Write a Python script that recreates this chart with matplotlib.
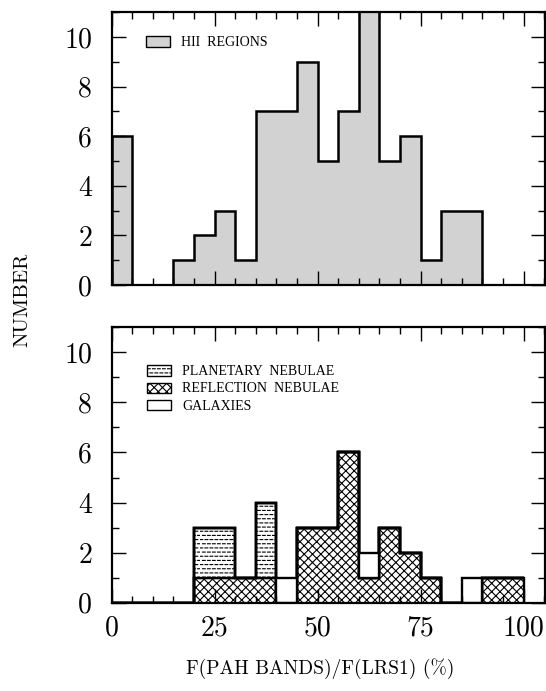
import numpy as np
import matplotlib
matplotlib.use("Agg")
import matplotlib.pyplot as plt
import matplotlib.hatch as mhatch
from matplotlib.path import Path
from matplotlib.patches import Patch
from matplotlib.ticker import MultipleLocator

# ---------------- data ----------------
hii_edges = list(range(0, 95, 5))
hii_counts = [6, 0, 0, 1, 2, 3, 1, 7, 7, 9, 5, 7, 12, 5, 6, 1, 3, 3]

low_edges = list(range(0, 105, 5))
reflection_counts = [0, 0, 0, 0, 1, 1, 1, 1, 0, 3, 3, 6, 1, 3, 2, 1, 0, 0, 1, 1]
planetary_counts = [0, 0, 0, 0, 2, 2, 0, 3, 0, 0, 0, 0, 0, 0, 0, 0, 0, 0, 0, 0]
galaxy_counts = [0, 0, 0, 0, 0, 0, 0, 0, 1, 0, 0, 0, 1, 0, 0, 0, 0, 1, 0, 0]

x_ticks = [0, 25, 50, 75, 100]
y_ticks = [0, 2, 4, 6, 8, 10]
legend_top = ["HII  REGIONS"]
legend_bottom = ["PLANETARY  NEBULAE", "REFLECTION  NEBULAE", "GALAXIES"]
xlabel = "F(PAH BANDS)/F(LRS1) (%)"
ylabel = "NUMBER"

# ------------- dashed horizontal hatch (replaces '-') -------------
class DashedHorizontalHatch(mhatch.HatchPatternBase):
    def __init__(self, hatch, density):
        self.num_lines = int((hatch.count('-') + hatch.count('+')) * density)
        self.num_dashes = max(self.num_lines - 4, 0)
        self.num_vertices = self.num_lines * self.num_dashes * 2

    def set_vertices_and_codes(self, vertices, codes):
        ys, ystep = np.linspace(0.0, 1.0, self.num_lines, False, retstep=True)
        ys = ys + ystep / 2.0
        xs, xstep = np.linspace(0.0, 1.0, self.num_dashes, False, retstep=True)
        k = 0
        for i, y in enumerate(ys):
            off = (xstep / 2.0) * (i % 2)
            for x in xs:
                x0 = (x + off) % 1.0
                x1 = min(x0 + 0.55 * xstep, 1.0)
                vertices[k] = (x0, y)
                vertices[k + 1] = (x1, y)
                codes[k] = Path.MOVETO
                codes[k + 1] = Path.LINETO
                k += 2

mhatch._hatch_types = [DashedHorizontalHatch if t is mhatch.HorizontalHatch else t
                       for t in mhatch._hatch_types]

plt.rcParams['hatch.linewidth'] = 0.8
plt.rcParams['axes.formatter.use_mathtext'] = True

W, H = 546, 691
fig = plt.figure(figsize=(W / 100, H / 100), dpi=100)

def frac_axes(left_px, top_px, right_px, bottom_px):
    return fig.add_axes([left_px / W, 1 - bottom_px / H,
                         (right_px - left_px) / W, (bottom_px - top_px) / H])

ax1 = frac_axes(111.5, 12.3, 545, 285)
ax2 = frac_axes(111.5, 327.3, 545, 602.7)

tick_font = dict(family='cmr10', size=20)
for ax in (ax1, ax2):
    ax.set_xlim(0, 105.2)
    ax.set_ylim(0, 11)
    ax.set_xticks(x_ticks)
    ax.set_yticks(y_ticks)
    ax.xaxis.set_minor_locator(MultipleLocator(5))
    ax.yaxis.set_minor_locator(MultipleLocator(1))
    ax.tick_params(which='both', direction='in', top=True, right=True, width=1.0)
    ax.tick_params(which='major', length=10)
    ax.tick_params(which='minor', length=5)
    ax.tick_params(axis='y', pad=14)
    ax.tick_params(axis='x', pad=9)
    for s in ax.spines.values():
        s.set_linewidth(1.6)
    ax.set_yticklabels([str(v) for v in y_ticks], fontdict=tick_font)

ax1.set_xticklabels([])
ax2.set_xticklabels([str(v) for v in x_ticks], fontdict=tick_font)

legend_prop = dict(family='Liberation Serif', size=10)

# ---------- top panel: HII regions ----------
hii_color = '#d2d2d2'
ax1.stairs(hii_counts, hii_edges, fill=True, facecolor=hii_color,
           edgecolor='none', zorder=1)
ax1.stairs(hii_counts, hii_edges, fill=False, edgecolor='black',
           linewidth=1.8, baseline=0, zorder=2)

h_top = [Patch(facecolor=hii_color, edgecolor='black', linewidth=1.0)]
ax1.legend(h_top, legend_top, loc='upper left', bbox_to_anchor=(0.079, 0.912),
           frameon=False, prop=legend_prop,
           handlelength=1.75, handleheight=0.75, handletextpad=0.8,
           borderpad=0, borderaxespad=0)

# ---------- bottom panel: stacked ----------
refl = np.array(reflection_counts, dtype=float)
pn = np.array(planetary_counts, dtype=float)
gal = np.array(galaxy_counts, dtype=float)

ax2.stairs(refl, low_edges, baseline=0, fill=True, facecolor='white',
           edgecolor='black', hatch='xxxx', linewidth=1.7, zorder=1)
ax2.stairs(refl + pn, low_edges, baseline=refl, fill=True, facecolor='white',
           edgecolor='black', hatch='----', linewidth=1.7, zorder=1)
ax2.stairs(refl + pn + gal, low_edges, baseline=refl + pn, fill=True,
           facecolor='white', edgecolor='black', linewidth=1.7, zorder=1)

h_bot = [Patch(facecolor='white', edgecolor='black', hatch='----', linewidth=1.0),
         Patch(facecolor='white', edgecolor='black', hatch='xxxx', linewidth=1.0),
         Patch(facecolor='white', edgecolor='black', linewidth=1.0)]
ax2.legend(h_bot, legend_bottom, loc='upper left', bbox_to_anchor=(0.081, 0.862),
           frameon=False, prop=legend_prop,
           handlelength=1.75, handleheight=0.75, handletextpad=0.8,
           labelspacing=0.3, borderpad=0, borderaxespad=0)

# ---------- axis labels ----------
fig.text(320 / W, 1 - 669 / H, xlabel, family='cmr10', size=14,
         ha='center', va='center')
fig.text(22 / W, 1 - 300 / H, ylabel, family='cmr10', size=15,
         rotation=90, ha='center', va='center')

fig.savefig('out.png', dpi=100)
